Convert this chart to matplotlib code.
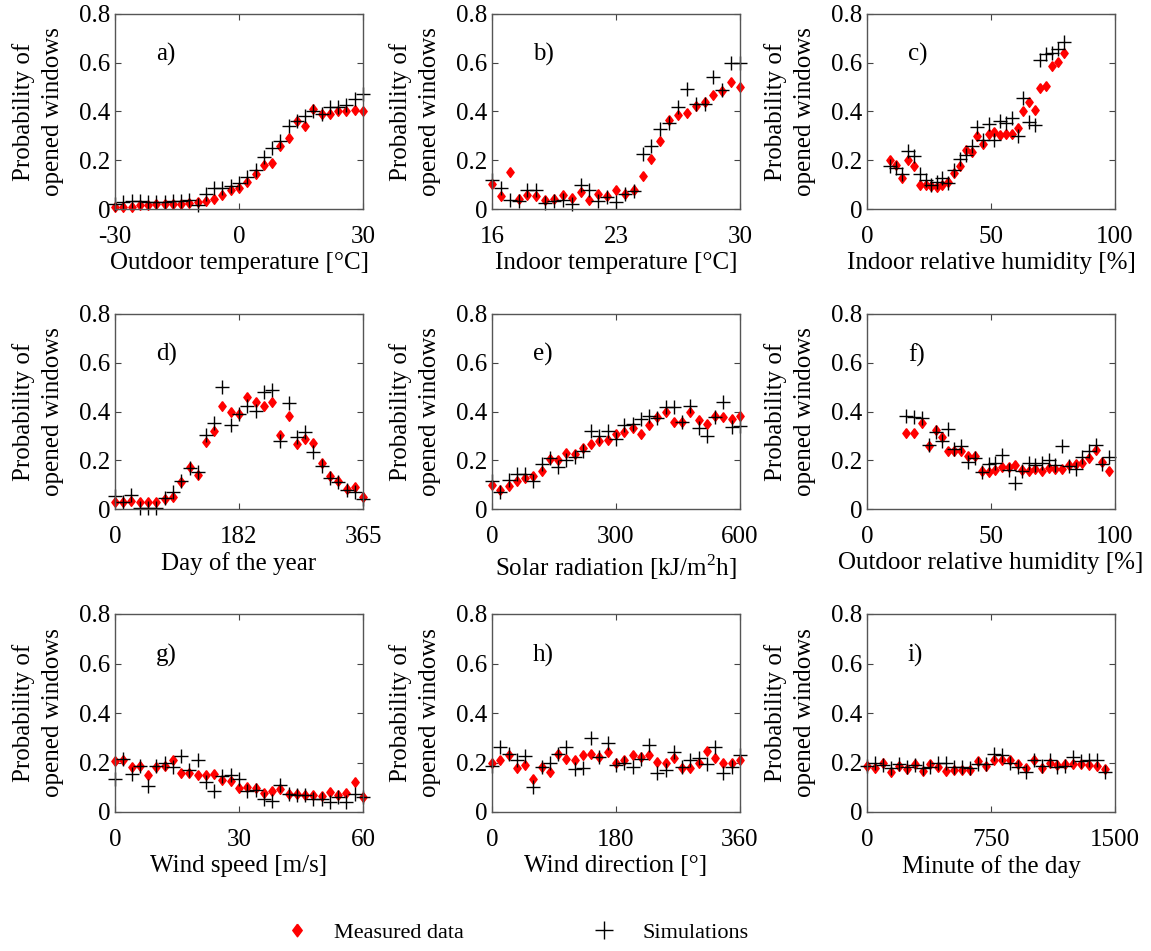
import matplotlib
matplotlib.use('Agg')
import matplotlib.pyplot as plt

plt.rcParams['font.family'] = 'Liberation Serif'
plt.rcParams['mathtext.fontset'] = 'custom'
plt.rcParams['mathtext.rm'] = 'Liberation Serif'

# a) outdoor temperature
t_out = [-30, -28, -26, -24, -22, -20, -18, -16, -14, -12, -10, -8, -6, -4, -2, 0,
         2, 4, 6, 8, 10, 12, 14, 16, 18, 20, 22, 24, 26, 28, 30]
t_out_meas = [0.01, 0.01, 0.01, 0.015, 0.015, 0.02, 0.02, 0.022, 0.022, 0.023, 0.027, 0.034,
              0.04, 0.057, 0.08, 0.086, 0.11, 0.145, 0.18, 0.19, 0.26, 0.29, 0.36, 0.34,
              0.41, 0.39, 0.39, 0.40, 0.40, 0.405, 0.40]
t_out_sim = [0.022, 0.03, 0.034, 0.034, 0.03, 0.03, 0.03, 0.033, 0.034, 0.038, 0.015, 0.06,
             0.085, 0.085, 0.093, 0.106, 0.13, 0.16, 0.215, 0.25, 0.28, 0.34, 0.36, 0.38,
             0.40, 0.39, 0.42, 0.42, 0.425, 0.45, 0.47]

# b) indoor temperature
t_in = [16, 16.5, 17, 17.5, 18, 18.5, 19, 19.5, 20, 20.5, 21, 21.5, 22, 22.5, 23, 23.5,
        24, 24.5, 25, 25.5, 26, 26.5, 27, 27.5, 28, 28.5, 29, 29.5, 30]
t_in_meas = [0.102, 0.052, 0.15, 0.041, 0.059, 0.052, 0.038, 0.041, 0.059, 0.045, 0.068,
             0.038, 0.061, 0.052, 0.076, 0.061, 0.079, 0.134, 0.205, 0.277, 0.366, 0.384,
             0.393, 0.423, 0.441, 0.468, 0.486, 0.519, 0.50]
t_in_sim = [0.12, 0.086, 0.038, 0.031, 0.079, 0.076, 0.025, 0.034, 0.038, 0.022, 0.10,
            0.076, 0.031, 0.049, 0.027, 0.063, 0.072, 0.227, 0.257, 0.328, 0.352, 0.418,
            0.491, 0.431, 0.431, 0.543, 0.489, 0.598, 0.598]

# c) indoor relative humidity
rh_in = [9.4, 11.6, 14.2, 16.6, 19.0, 21.3, 23.6, 25.8, 28.1, 30.4, 32.5, 35.2, 37.5, 39.8,
         42.2, 44.5, 46.7, 49.3, 51.4, 53.7, 56.0, 58.4, 60.7, 63.1, 65.4, 67.9, 69.9, 72.3,
         74.6, 77.1, 79.6]
rh_in_meas = [0.202, 0.18, 0.127, 0.20, 0.175, 0.10, 0.097, 0.093, 0.089, 0.097, 0.109,
              0.147, 0.175, 0.243, 0.232, 0.298, 0.268, 0.307, 0.317, 0.304, 0.307, 0.309,
              0.332, 0.404, 0.441, 0.407, 0.496, 0.505, 0.588, 0.602, 0.642]
rh_in_sim = [0.175, 0.168, 0.145, 0.236, 0.218, 0.145, 0.12, 0.10, 0.109, 0.127, 0.106,
             0.158, 0.205, 0.222, 0.257, 0.336, 0.284, 0.35, 0.284, 0.359, 0.352, 0.373,
             0.298, 0.455, 0.355, 0.345, 0.612, 0.636, 0.639, 0.655, 0.687]

# d) day of the year
doy = [0, 12, 24, 37, 49, 61, 73, 85, 97, 110, 122, 134, 146, 158, 170, 183, 195, 207,
       219, 231, 243, 256, 268, 280, 292, 304, 316, 328, 341, 353, 365]
doy_meas = [0.03, 0.027, 0.034, 0.03, 0.03, 0.03, 0.041, 0.048, 0.109, 0.171, 0.141, 0.276,
            0.321, 0.424, 0.397, 0.39, 0.461, 0.44, 0.424, 0.438, 0.304, 0.383, 0.267,
            0.287, 0.271, 0.189, 0.134, 0.116, 0.082, 0.089, 0.048]
doy_sim = [0.055, 0.03, 0.057, 0.003, 0.003, 0.003, 0.045, 0.068, 0.116, 0.167, 0.15, 0.304,
           0.353, 0.502, 0.345, 0.39, 0.424, 0.404, 0.482, 0.49, 0.28, 0.434, 0.294, 0.317,
           0.235, 0.175, 0.126, 0.109, 0.078, 0.068, 0.041]

# e) solar radiation
sol = [0, 20, 40, 60, 80, 100, 120, 140, 160, 180, 200, 220, 240, 260, 280, 300, 320, 340,
       360, 380, 400, 420, 440, 460, 480, 500, 520, 540, 560, 580, 600]
sol_meas = [0.10, 0.078, 0.096, 0.114, 0.126, 0.134, 0.155, 0.205, 0.202, 0.228, 0.226,
            0.249, 0.267, 0.28, 0.285, 0.308, 0.315, 0.332, 0.308, 0.346, 0.376, 0.40,
            0.356, 0.356, 0.40, 0.365, 0.349, 0.38, 0.379, 0.369, 0.38]
sol_sim = [0.116, 0.071, 0.119, 0.144, 0.144, 0.116, 0.185, 0.208, 0.171, 0.202, 0.212,
           0.24, 0.321, 0.301, 0.321, 0.287, 0.345, 0.349, 0.369, 0.38, 0.372, 0.417,
           0.417, 0.356, 0.424, 0.331, 0.298, 0.376, 0.438, 0.335, 0.342]

# f) outdoor relative humidity
rh_out = [15.9, 19.0, 22.0, 25.0, 27.7, 30.1, 32.5, 35.2, 37.9, 40.6, 43.6, 46.3, 49.0,
          51.7, 54.4, 57.1, 59.8, 62.5, 65.2, 67.9, 70.6, 73.3, 76.0, 78.7, 81.4, 84.1,
          86.8, 89.5, 92.2, 94.9, 97.6]
rh_out_meas = [0.31, 0.31, 0.352, 0.26, 0.325, 0.294, 0.239, 0.239, 0.239, 0.219, 0.219,
               0.155, 0.15, 0.161, 0.171, 0.171, 0.18, 0.161, 0.157, 0.164, 0.155, 0.167,
               0.164, 0.164, 0.18, 0.185, 0.189, 0.208, 0.242, 0.192, 0.157]
rh_out_sim = [0.383, 0.376, 0.373, 0.263, 0.317, 0.28, 0.328, 0.246, 0.26, 0.192, 0.208,
              0.15, 0.185, 0.189, 0.222, 0.161, 0.105, 0.157, 0.189, 0.18, 0.189, 0.202,
              0.18, 0.257, 0.178, 0.164, 0.212, 0.236, 0.263, 0.185, 0.212]

# g) wind speed
wind = [0, 2, 4, 6, 8, 10, 12, 14, 16, 18, 20, 22, 24, 26, 28, 30, 32, 34, 36, 38, 40,
        42, 44, 46, 48, 50, 52, 54, 56, 58, 60]
wind_meas = [0.207, 0.209, 0.182, 0.186, 0.149, 0.182, 0.185, 0.212, 0.159, 0.159, 0.149,
             0.149, 0.155, 0.128, 0.126, 0.095, 0.099, 0.095, 0.078, 0.085, 0.091, 0.072,
             0.072, 0.07, 0.068, 0.064, 0.081, 0.068, 0.077, 0.122, 0.061]
wind_sim = [0.132, 0.216, 0.155, 0.186, 0.105, 0.186, 0.196, 0.182, 0.226, 0.169, 0.209,
            0.122, 0.085, 0.146, 0.149, 0.135, 0.085, 0.088, 0.054, 0.045, 0.111, 0.074,
            0.07, 0.068, 0.054, 0.054, 0.041, 0.061, 0.041, 0.072, 0.061]

# h) wind direction
wdir = [0, 12, 24, 36, 48, 60, 72, 84, 96, 108, 120, 132, 144, 156, 168, 180, 192, 204,
        216, 228, 240, 252, 264, 276, 288, 300, 312, 324, 336, 348, 360]
wdir_meas = [0.199, 0.209, 0.23, 0.176, 0.189, 0.135, 0.182, 0.162, 0.236, 0.216, 0.209,
             0.23, 0.236, 0.223, 0.243, 0.199, 0.209, 0.23, 0.223, 0.232, 0.203, 0.196,
             0.219, 0.176, 0.176, 0.199, 0.247, 0.22, 0.196, 0.199, 0.209]
wdir_sim = [0.185, 0.264, 0.236, 0.209, 0.226, 0.101, 0.182, 0.20, 0.236, 0.264, 0.172,
            0.176, 0.297, 0.223, 0.277, 0.189, 0.196, 0.18, 0.216, 0.27, 0.158, 0.169,
            0.243, 0.182, 0.209, 0.219, 0.193, 0.261, 0.158, 0.182, 0.23]

# i) minute of the day
minute = [0, 48, 96, 144, 192, 240, 288, 336, 384, 432, 480, 528, 576, 624, 672, 720, 768,
          816, 864, 912, 960, 1008, 1056, 1104, 1152, 1200, 1248, 1296, 1344, 1392, 1440]
minute_meas = [0.186, 0.176, 0.196, 0.162, 0.186, 0.172, 0.193, 0.166, 0.193, 0.18, 0.166,
               0.169, 0.169, 0.169, 0.205, 0.186, 0.212, 0.209, 0.212, 0.193, 0.176, 0.212,
               0.176, 0.199, 0.189, 0.193, 0.192, 0.192, 0.189, 0.186, 0.173]
minute_sim = [0.186, 0.196, 0.189, 0.176, 0.193, 0.18, 0.189, 0.176, 0.182, 0.196, 0.196,
              0.18, 0.18, 0.176, 0.193, 0.193, 0.234, 0.23, 0.196, 0.182, 0.162, 0.209,
              0.186, 0.209, 0.182, 0.186, 0.223, 0.207, 0.209, 0.209, 0.162]

panels = [
    ('a)', t_out, t_out_meas, t_out_sim, (-30, 30), [-30, 0, 30], 'Outdoor temperature [°C]'),
    ('b)', t_in, t_in_meas, t_in_sim, (16, 30), [16, 23, 30], 'Indoor temperature [°C]'),
    ('c)', rh_in, rh_in_meas, rh_in_sim, (0, 100), [0, 50, 100], 'Indoor relative humidity [%]'),
    ('d)', doy, doy_meas, doy_sim, (0, 365), [0, 182, 365], 'Day of the year'),
    ('e)', sol, sol_meas, sol_sim, (0, 600), [0, 300, 600], r'Solar radiation [kJ/m$^{\mathrm{2}}$h]'),
    ('f)', rh_out, rh_out_meas, rh_out_sim, (0, 100), [0, 50, 100], 'Outdoor relative humidity [%]'),
    ('g)', wind, wind_meas, wind_sim, (0, 60), [0, 30, 60], 'Wind speed [m/s]'),
    ('h)', wdir, wdir_meas, wdir_sim, (0, 360), [0, 180, 360], 'Wind direction [°]'),
    ('i)', minute, minute_meas, minute_sim, (0, 1500), [0, 750, 1500], 'Minute of the day'),
]

W, H = 1151, 951
lefts = [115, 492, 867]
tops = [14, 314, 614]
heights = [195, 195, 198]
width = 248

diamond = [(0, 1), (0.75, 0), (0, -1), (-0.75, 0), (0, 1)]

fig = plt.figure(figsize=(W / 100, H / 100), dpi=100)
handles = None
for k, (tag, x, meas, sim, xlim, xt, xlab) in enumerate(panels):
    r, c = divmod(k, 3)
    ax = fig.add_axes([lefts[c] / W, 1 - (tops[r] + heights[r]) / H,
                       width / W, heights[r] / H])
    h1, = ax.plot(x, meas, linestyle='none', marker=diamond, markersize=7,
                  color='red', markeredgecolor='red', clip_on=False, label='Measured data')
    h2, = ax.plot(x, sim, linestyle='none', marker='+', markersize=10,
                  markeredgewidth=1.0, color='black', clip_on=False, label='Simulations')
    if handles is None:
        handles = [h1, h2]
    ax.set_xlim(*xlim)
    ax.set_ylim(0, 0.8)
    ax.set_xticks(xt)
    ax.set_xticklabels([str(v) for v in xt])
    ax.set_yticks([0, 0.2, 0.4, 0.6, 0.8])
    ax.set_yticklabels(['0', '0.2', '0.4', '0.6', '0.8'])
    ax.tick_params(direction='in', top=True, right=True, length=4, width=0.8,
                   color='#444444', labelsize=18)
    ax.tick_params(axis='x', pad=12)
    for sp in ax.spines.values():
        sp.set_color('#555555')
        sp.set_linewidth(1.0)
    ax.set_xlabel(xlab, fontsize=18, labelpad=3)
    ax.set_ylabel('Probability of\nopened windows', fontsize=18, linespacing=1.4)
    ax.yaxis.set_label_coords(-77 / width, 0.5)
    ax.yaxis.label.set_va('center')
    ax.text(0.165, 0.79, tag, transform=ax.transAxes, fontsize=18, va='center', ha='left')

fig.legend(handles=handles, loc='center', bbox_to_anchor=(0.449, 0.019), ncol=2,
           frameon=False, fontsize=16, handlelength=1.0, handletextpad=1.2,
           columnspacing=5.8, markerscale=1.3)

plt.savefig('out.png', dpi=100)
